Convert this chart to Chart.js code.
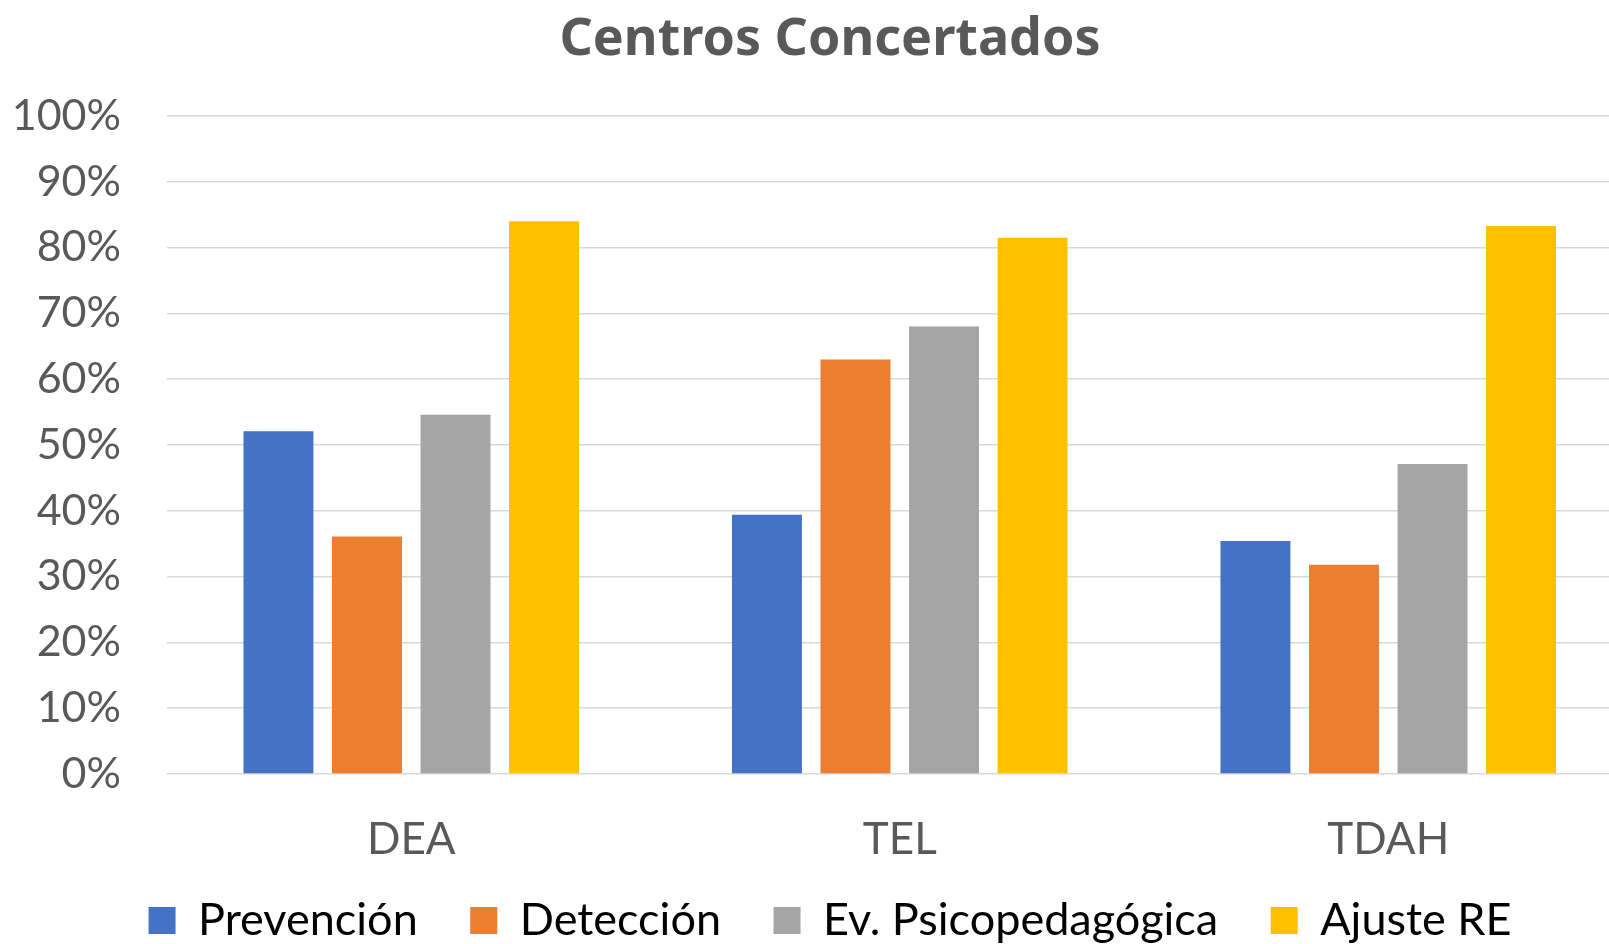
<!DOCTYPE html>
<html>
<head>
<meta charset="utf-8">
<script src="https://cdn.jsdelivr.net/npm/chart.js@4.4.1/dist/chart.umd.min.js"></script>
<style>
  html, body { margin: 0; padding: 0; background: #ffffff; overflow: hidden; }
  #wrap { width: 1660px; height: 953px; }
</style>
</head>
<body>
<div id="wrap"><canvas id="c" width="1660" height="953"></canvas></div>
<script>
const categories = ['DEA', 'TEL', 'TDAH'];
const prevencion = [0.521, 0.394, 0.354];
const deteccion = [0.361, 0.630, 0.318];
const evPsico = [0.546, 0.680, 0.471];
const ajusteRE = [0.840, 0.815, 0.833];
const seriesNames = ['Prevención', 'Detección', 'Ev. Psicopedagógica', 'Ajuste RE'];
const seriesColors = ['#4472C4', '#ED7D31', '#A5A5A5', '#FFC000'];
const yTickValues = [0, 0.1, 0.2, 0.3, 0.4, 0.5, 0.6, 0.7, 0.8, 0.9, 1.0];

const seriesData = [prevencion, deteccion, evPsico, ajusteRE];

// let the y tick labels use the left margin without being clipped
const yLabelAreaPlugin = {
  id: 'yLabelArea',
  afterLayout(chart) { chart.scales.y.left = 0; }
};

new Chart(document.getElementById('c'), {
  type: 'bar',
  data: {
    labels: categories,
    datasets: seriesNames.map((name, i) => ({
      label: name,
      data: seriesData[i],
      backgroundColor: seriesColors[i],
      borderWidth: 0,
      categoryPercentage: 0.725,
      barPercentage: 0.79
    }))
  },
  plugins: [yLabelAreaPlugin],
  options: {
    responsive: false,
    devicePixelRatio: 1,
    animation: false,
    layout: { padding: { left: 27.5, right: 27.5, top: 0, bottom: 0 } },
    plugins: {
      tooltip: { enabled: false },
      title: {
        display: true,
        text: 'Centros Concertados',
        color: '#595959',
        font: { family: '"Noto Sans", "DejaVu Sans", sans-serif', size: 52, weight: 'bold', lineHeight: 1.2 },
        padding: { top: 8.8, bottom: 44.8 }
      },
      legend: {
        display: true,
        position: 'bottom',
        labels: {
          color: '#000000',
          boxWidth: 27,
          boxHeight: 27,
          padding: 30,
          font: { family: 'Lato, "DejaVu Sans", sans-serif', size: 45 },
          generateLabels: (chart) => {
            const items = Chart.defaults.plugins.legend.labels.generateLabels(chart);
            items.forEach((it, i) => {
              if (i < items.length - 1) it.text = it.text + '\u2002';
            });
            return items;
          }
        }
      }
    },
    scales: {
      x: {
        grid: { display: false, drawTicks: false },
        border: { display: false },
        ticks: {
          color: '#595959',
          padding: 39,
          font: { family: 'Lato, "DejaVu Sans", sans-serif', size: 44 }
        },
        afterFit: (scale) => { scale.height = 94; }
      },
      y: {
        min: 0,
        max: 1,
        afterBuildTicks: (scale) => { scale.ticks = yTickValues.map(v => ({ value: v })); },
        grid: { color: '#d9d9d9', lineWidth: 1.5, drawTicks: false },
        border: { display: false },
        ticks: {
          color: '#595959',
          padding: 46,
          font: { family: 'Lato, "DejaVu Sans", sans-serif', size: 43 },
          callback: (v) => Math.round(v * 100) + '%'
        },
        afterFit: (scale) => { scale.width = 139.5; }
      }
    }
  }
});
</script>
</body>
</html>
